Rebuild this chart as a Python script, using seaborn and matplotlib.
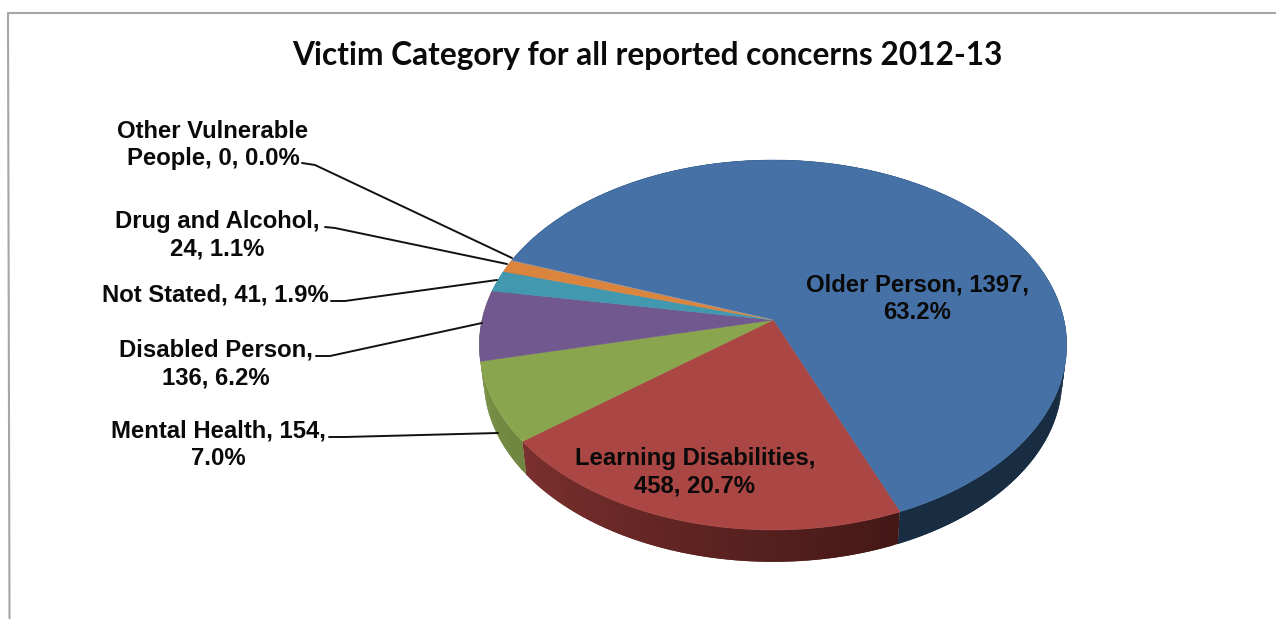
#!/usr/bin/env python3
"""Tilted pie chart of victim categories, drawn with a perspective transform on ax.pie."""

import numpy as np
import matplotlib
matplotlib.use("Agg")
import matplotlib.pyplot as plt
from matplotlib.transforms import Transform
import seaborn as sns

TITLE = "Victim Category for all reported concerns 2012-13"
CATEGORIES = ["Older Person", "Learning Disabilities", "Mental Health", "Disabled Person",
              "Not Stated", "Drug and Alcohol", "Other Vulnerable People"]
COUNTS = [1397, 458, 154, 136, 41, 24, 0]
LABELS = ["Older Person, 1397,\n63.2%", "Learning Disabilities,\n458, 20.7%",
          "Mental Health, 154,\n7.0%", "Disabled Person,\n136, 6.2%",
          "Not Stated, 41, 1.9%", "Drug and Alcohol,\n24, 1.1%",
          "Other Vulnerable\nPeople, 0, 0.0%"]
TOP_COLORS = ["#4571A6", "#AA4643", "#89A54E", "#71588F", "#4198AF", "#DB843D", "#7CA0CC"]
# the purple wall pokes out next to the green one, in the reference only green shows there
WALL_COLORS = [("#182C42", "#182C42"), ("#441816", "#7A302E"), ("#6F8540", "#7A9248"),
               ("#7A9248", "#7A9248"), ("#2B6373", "#2B6373"), ("#8F5628", "#8F5628"),
               ("#506A86", "#506A86")]

# label centres and leader lines, in pixels of the output image
LABEL_POS = [(917, 299), (695, 472), (218, 445), (216, 364), (215, 295), (217, 235), (213, 145)]
LEADERS = [None, None,
           [(329, 437), (345, 437), (498, 433)],
           [(316, 356), (330, 356), (482, 323)],
           [(331, 301), (345, 301), (497, 280)],
           [(325, 227), (335, 228), (507, 264)],
           [(302, 163), (315, 165), (512, 258)]]

FIG_W, FIG_H = 1276, 619
START_ANGLE = 160
LABEL_SIZE = 17.2
TITLE_SIZE = 22.8


class Tilt(Transform):
    """Map the unit disc of ax.pie to a perspective ellipse in pixel coordinates."""
    input_dims = 2
    output_dims = 2
    is_separable = False

    def __init__(self, cx, cy, a, b, k):
        super().__init__()
        self.cx, self.cy, self.a, self.b, self.k = cx, cy, a, b, k

    def transform_non_affine(self, xy):
        xy = np.asarray(xy, dtype=float)
        w = 1 + self.k * xy[:, 1]
        return np.column_stack([self.cx + self.a * xy[:, 0] / w,
                                self.cy - self.b * xy[:, 1] / w])


def main():
    sns.set_theme(style="white")
    plt.rcParams["font.family"] = ["Liberation Sans", "DejaVu Sans"]

    fig = plt.figure(figsize=(FIG_W / 100, FIG_H / 100), dpi=100, facecolor="white")
    ax = fig.add_axes([0, 0, 1, 1])

    top_rim = Tilt(773, 320, 291, 181.6, 0.135)
    low_rim = Tilt(773, 355, 286.5, 178.9, 0.135)

    wedges, _ = ax.pie(COUNTS, colors=TOP_COLORS, startangle=START_ANGLE, counterclock=False,
                       wedgeprops=dict(linewidth=0.4, zorder=3))
    ax.set_aspect("auto")
    ax.set_xlim(0, FIG_W)
    ax.set_ylim(FIG_H, 0)
    ax.axis("off")

    for wedge, color, ends in zip(wedges, TOP_COLORS, WALL_COLORS):
        wedge.set_transform(top_rim + ax.transData)
        wedge.set_edgecolor(color)
        if wedge.theta2 - wedge.theta1 < 0.01:
            continue
        # side wall: strips between the upper and lower rim, each one overlapping the next
        n = max(int(wedge.theta2 - wedge.theta1), 1)
        thetas = np.radians(np.linspace(wedge.theta2, wedge.theta1, n + 1))
        unit = np.column_stack([np.cos(thetas), np.sin(thetas)])
        upper, lower = top_rim.transform(unit), low_rim.transform(unit)
        strips = sns.blend_palette(list(ends), n)
        for i in range(n):
            quad = np.vstack([upper[i:i + 3], lower[i:i + 3][::-1]])
            ax.fill(quad[:, 0], quad[:, 1], color=strips[i], lw=0, zorder=2)

    for label, (x, y) in zip(LABELS, LABEL_POS):
        ax.text(x, y, label, ha="center", va="center", fontsize=LABEL_SIZE, fontweight="bold",
                color="#0A0A0A", linespacing=1.26, zorder=5)

    for leader in LEADERS:
        if leader:
            xs, ys = zip(*leader)
            ax.plot(xs, ys, color="#111111", lw=1.4, zorder=4)

    ax.text(647, 56, TITLE, ha="center", va="center", fontsize=TITLE_SIZE, fontweight="bold",
            family=["Lato", "DejaVu Sans"], color="#0A0A0A")

    # chart area border, only its top and left edges are in the picture
    ax.plot([1276, 8, 9.5], [13, 13, 619], color="#A6A6A6", lw=1.5, zorder=1)

    fig.savefig("out.png", dpi=100, facecolor="white")
    plt.close(fig)


if __name__ == "__main__":
    main()
